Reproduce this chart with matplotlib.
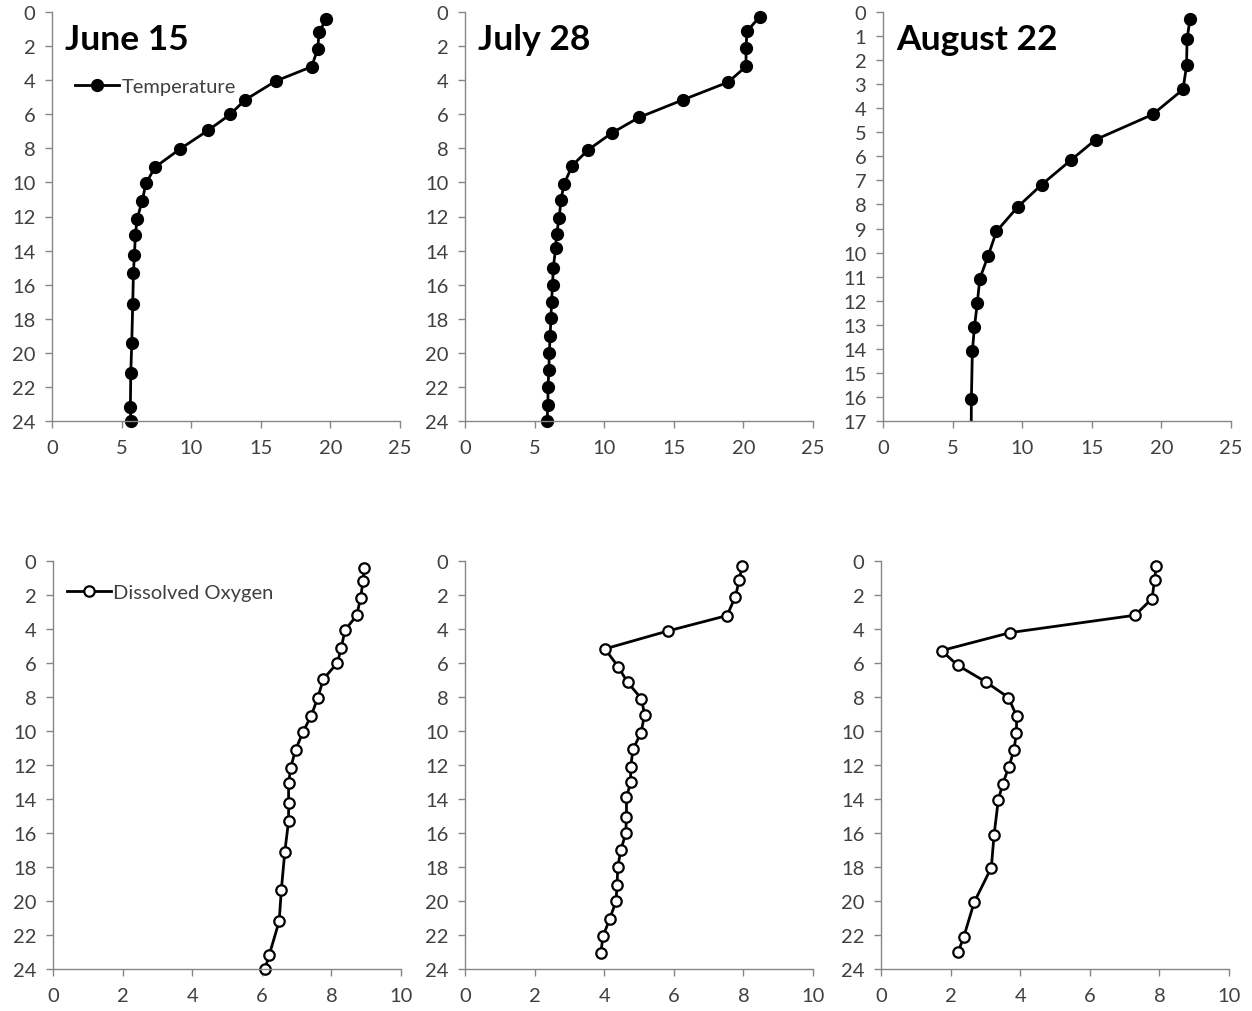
import matplotlib
matplotlib.use("Agg")
import matplotlib.pyplot as plt
import numpy as np

plt.rcParams['font.family'] = ['Lato', 'DejaVu Sans']

# depth profiles, three sampling dates
dates = ["June 15", "July 28", "August 22"]

# temperature (x) vs depth (y)
jun_temp = [19.70, 19.18, 19.10, 18.65, 16.08, 13.85, 12.80, 11.24, 9.18, 7.41, 6.76,
            6.47, 6.11, 5.99, 5.92, 5.85, 5.80, 5.73, 5.66, 5.63, 5.66]
jun_temp_depth = [0.43, 1.17, 2.15, 3.21, 4.05, 5.17, 6.01, 6.93, 8.05, 9.10, 10.04,
                  11.10, 12.16, 13.10, 14.25, 15.29, 17.13, 19.40, 21.18, 23.16, 24.0]

jul_temp = [21.17, 20.26, 20.19, 20.19, 18.92, 15.67, 12.49, 10.53, 8.85, 7.70, 7.11,
            6.89, 6.77, 6.58, 6.51, 6.34, 6.29, 6.22, 6.17, 6.12, 6.05, 6.03, 5.96, 5.96, 5.89]
jul_temp_depth = [0.29, 1.12, 2.11, 3.19, 4.11, 5.15, 6.19, 7.11, 8.09, 9.01, 10.12,
                  11.04, 12.08, 13.02, 13.84, 15.04, 16.01, 17.01, 17.97, 19.03, 20.01,
                  21.01, 22.0, 23.06, 24.0]

aug_temp = [22.05, 21.84, 21.81, 21.55, 19.37, 15.29, 13.47, 11.41, 9.68, 8.15, 7.55,
            6.95, 6.78, 6.57, 6.42, 6.35, 6.33]
aug_temp_depth = [0.31, 1.14, 2.22, 3.22, 4.26, 5.30, 6.17, 7.17, 8.10, 9.12, 10.14,
                  11.09, 12.08, 13.09, 14.09, 16.08, 18.0]

# dissolved oxygen (x) vs depth (y)
jun_do = [8.94, 8.91, 8.84, 8.73, 8.39, 8.28, 8.17, 7.77, 7.61, 7.42, 7.18, 6.97,
          6.83, 6.77, 6.77, 6.77, 6.66, 6.56, 6.50, 6.21, 6.09]
jun_do_depth = [0.43, 1.17, 2.15, 3.19, 4.07, 5.14, 6.00, 6.94, 8.04, 9.10, 10.07,
                11.11, 12.15, 13.07, 14.24, 15.28, 17.12, 19.38, 21.18, 23.20, 24.0]

jul_do = [7.96, 7.88, 7.77, 7.53, 5.84, 4.02, 4.40, 4.67, 5.07, 5.16, 5.06, 4.83,
          4.76, 4.76, 4.64, 4.64, 4.62, 4.48, 4.39, 4.37, 4.34, 4.16, 3.97, 3.90]
jul_do_depth = [0.29, 1.14, 2.09, 3.21, 4.11, 5.17, 6.21, 7.13, 8.10, 9.03, 10.10,
                11.06, 12.10, 13.02, 13.90, 15.04, 16.01, 16.99, 17.99, 19.03, 20.01,
                21.05, 22.05, 23.06]

aug_do = [7.91, 7.86, 7.79, 7.30, 3.72, 1.74, 2.20, 3.01, 3.66, 3.90, 3.89, 3.82,
          3.68, 3.50, 3.37, 3.25, 3.17, 2.68, 2.38, 2.22]
aug_do_depth = [0.27, 1.10, 2.21, 3.19, 4.21, 5.27, 6.13, 7.11, 8.03, 9.13, 10.13,
                11.11, 12.09, 13.09, 14.07, 16.09, 18.04, 20.06, 22.1, 22.98]

temp_sets = [(jun_temp, jun_temp_depth), (jul_temp, jul_temp_depth), (aug_temp, aug_temp_depth)]
do_sets = [(jun_do, jun_do_depth), (jul_do, jul_do_depth), (aug_do, aug_do_depth)]
temp_ymax = [24, 24, 17]

fig = plt.figure(figsize=(12.52, 10.12), dpi=100)

top_lefts = [52, 465, 883]
bot_lefts = [53, 465, 881]
W, H = 1252.0, 1012.0

txt_col = '#404040'
spine_col = '#868686'


def style_axis(ax):
    for s in ['top', 'right']:
        ax.spines[s].set_visible(False)
    for s in ['left', 'bottom']:
        ax.spines[s].set_color(spine_col)
        ax.spines[s].set_linewidth(1.0)
    ax.tick_params(direction='out', length=5, width=1.0, color=spine_col,
                   labelsize=14.5, labelcolor=txt_col)
    ax.tick_params(axis='y', pad=7)
    ax.tick_params(axis='x', pad=8)


for i in range(3):
    # temperature panel; the August profile runs past the 17 m axis and is cut there
    ax = fig.add_axes([top_lefts[i] / W, 1 - 422 / H, 348 / W, 409 / H])
    x, d = temp_sets[i]
    ax.plot(x, d, '-o', color='black', lw=2.0, ms=8.5, mfc='black', mec='black',
            label='Temperature', clip_on=(temp_ymax[i] != 24))
    ax.set_xlim(0, 25)
    ax.set_ylim(temp_ymax[i], 0)
    ax.set_xticks(np.arange(0, 26, 5))
    if temp_ymax[i] == 24:
        ax.set_yticks(np.arange(0, 25, 2))
    else:
        ax.set_yticks(np.arange(0, 18, 1))
    style_axis(ax)
    ax.text(0.037, 0.934, dates[i], transform=ax.transAxes, fontsize=25.5,
            fontweight='bold', color='black', ha='left', va='center')
    if i == 0:
        ax.legend(loc='center left', bbox_to_anchor=(0.066, 0.817), frameon=False,
                  borderpad=0, borderaxespad=0, handlelength=2.2, handletextpad=0.1,
                  fontsize=14.5, labelcolor=txt_col)

    # dissolved oxygen panel
    ax = fig.add_axes([bot_lefts[i] / W, 1 - 970 / H, 348 / W, 408 / H])
    x, d = do_sets[i]
    ax.plot(x, d, '-o', color='black', lw=2.0, ms=7.5, mfc='white', mec='black',
            mew=1.6, label='Dissolved Oxygen', clip_on=False)
    ax.set_xlim(0, 10)
    ax.set_ylim(24, 0)
    ax.set_xticks(np.arange(0, 11, 2))
    ax.set_yticks(np.arange(0, 25, 2))
    style_axis(ax)
    if i == 0:
        ax.legend(loc='center left', bbox_to_anchor=(0.04, 0.924), frameon=False,
                  borderpad=0, borderaxespad=0, handlelength=2.2, handletextpad=0.1,
                  fontsize=14.5, labelcolor=txt_col)

fig.savefig('out.png', dpi=100)
